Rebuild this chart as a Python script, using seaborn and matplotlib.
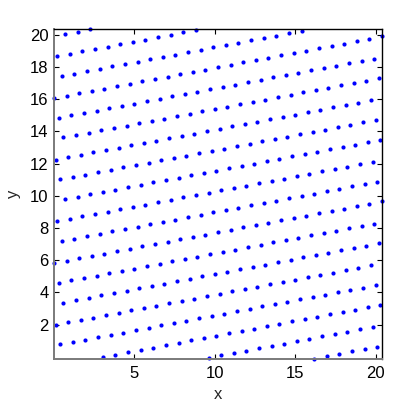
import numpy as np
import pandas as pd
import matplotlib
matplotlib.use("Agg")
import matplotlib.pyplot as plt
import seaborn as sns

# dots form a lattice that wraps around the square
# in grid steps (one step ~ 0.049 on the axes)
unit = 0.049
period = 418
start = [62, 2]        # dot on the bottom edge near x = 3
step = [16, 3]         # next dot along a dotted line
y_shift = -0.1         # bottom of the axes sits just below y = 0

x_ticks = [5, 10, 15, 20]
y_ticks = [2, 4, 6, 8, 10, 12, 14, 16, 18, 20]

k = np.arange(period)
xi = (start[0] + step[0] * k) % period
yi = (start[1] + step[1] * k) % period
df = pd.DataFrame({"x": xi * unit, "y": yi * unit + y_shift})

sns.set_style("ticks")
plt.rcParams["font.family"] = ["Liberation Sans", "DejaVu Sans"]

fig = plt.figure(figsize=(4.15, 4.07), dpi=100)
ax = fig.add_axes([0.130, 0.119, 0.7905, 0.809])

sns.scatterplot(data=df, x="x", y="y", color="blue", s=9, linewidth=0,
                clip_on=False, ax=ax, legend=False)

ax.set_xlim(df["x"].min(), df["x"].max())
ax.set_ylim(df["y"].min(), df["y"].max())
ax.set_xticks(x_ticks)
ax.set_yticks(y_ticks)
ax.set_xticklabels([str(t) for t in x_ticks])
ax.set_yticklabels([str(t) for t in y_ticks])
ax.tick_params(direction="in", length=3.5, width=0.8, top=True, right=True,
               labelsize=12, colors="black")
ax.tick_params(axis="x", pad=5)
ax.tick_params(axis="y", pad=4)

for side in ["left", "bottom"]:
    ax.spines[side].set_color("#7a7a7a")
    ax.spines[side].set_linewidth(1.4)
for side in ["top", "right"]:
    ax.spines[side].set_color("black")
    ax.spines[side].set_linewidth(1.0)
    ax.spines[side].set_visible(True)

ax.set_xlabel("x", fontsize=12, labelpad=5)
ax.set_ylabel("y", fontsize=12, labelpad=6)

fig.savefig("out.png", dpi=100)
